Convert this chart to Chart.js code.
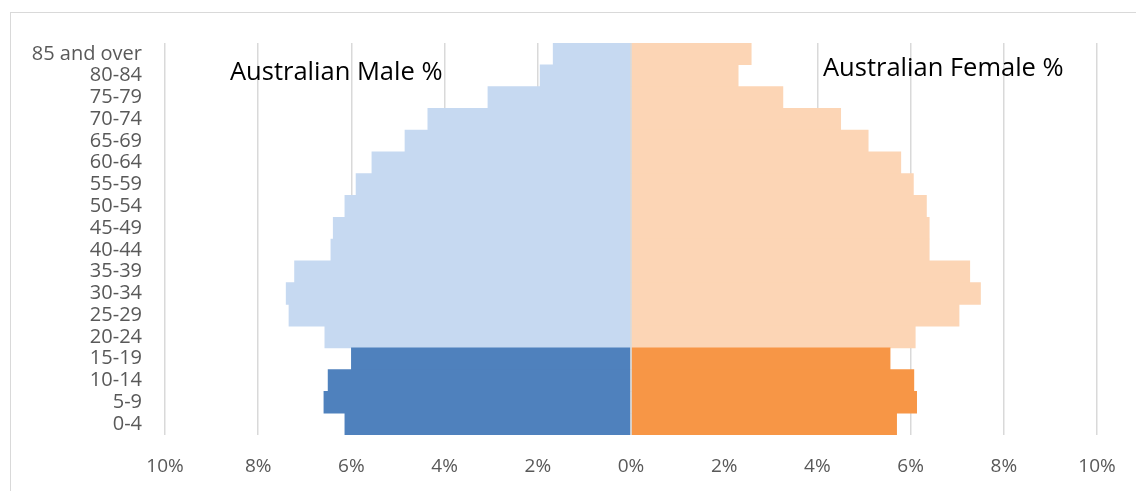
<!DOCTYPE html>
<html>
<head>
<meta charset="utf-8">
<script src="https://cdn.jsdelivr.net/npm/chart.js@4"></script>
<style>
  html, body { margin: 0; padding: 0; background: #fff; }
  #wrap { position: relative; width: 1136px; height: 491px; overflow: hidden; }
  #frame { position: absolute; left: 10px; top: 12px; width: 1140px; height: 490px; border: 1.5px solid #d9d9d9; box-sizing: border-box; }
  canvas { position: absolute; left: 0; top: 0; }
</style>
</head>
<body>
<div id="wrap">
  <div id="frame"></div>
  <canvas id="chart" width="1136" height="491"></canvas>
</div>
<script>
// age groups, top to bottom
const ageGroups = ["85 and over", "80-84", "75-79", "70-74", "65-69", "60-64", "55-59", "50-54",
  "45-49", "40-44", "35-39", "30-34", "25-29", "20-24", "15-19", "10-14", "5-9", "0-4"];

// percent of population
const malePct = [1.67, 1.95, 3.07, 4.36, 4.85, 5.56, 5.90, 6.14, 6.39, 6.44, 7.22, 7.40, 7.34, 6.57, 6.00, 6.50, 6.59, 6.14];
const femalePct = [2.58, 2.30, 3.26, 4.50, 5.09, 5.79, 6.06, 6.34, 6.40, 6.40, 7.27, 7.50, 7.04, 6.10, 5.56, 6.07, 6.13, 5.70];

// groups under 20 drawn darker
const youngGroups = ["15-19", "10-14", "5-9", "0-4"];

const xTicks = [-10, -8, -6, -4, -2, 0, 2, 4, 6, 8, 10];

const maleColors = ageGroups.map(a => youngGroups.includes(a) ? "#4f81bd" : "#c6d9f1");
const femaleColors = ageGroups.map(a => youngGroups.includes(a) ? "#f79646" : "#fcd5b5");

// labels inside the plot + the 0% line over the bars
const extras = {
  id: "extras",
  afterDatasetsDraw(chart) {
    const ctx = chart.ctx;
    const x = chart.scales.x;
    const area = chart.chartArea;
    ctx.save();
    ctx.strokeStyle = "#d9d9d9";
    ctx.lineWidth = 1.5;
    ctx.beginPath();
    ctx.moveTo(x.getPixelForValue(0), area.top);
    ctx.lineTo(x.getPixelForValue(0), area.bottom);
    ctx.stroke();
    ctx.fillStyle = "#000";
    ctx.textBaseline = "alphabetic";
    ctx.font = '25.5px "Open Sans"';
    ctx.fillText("Australian Male %", 230, 80);
    ctx.fillText("Australian Female %", 823, 76);
    ctx.restore();
  }
};

new Chart(document.getElementById("chart"), {
  type: "bar",
  data: {
    labels: ageGroups,
    datasets: [
      { label: "Male", data: malePct.map(v => -v), backgroundColor: maleColors, borderWidth: 0 },
      { label: "Female", data: femalePct, backgroundColor: femaleColors, borderWidth: 0 }
    ]
  },
  options: {
    indexAxis: "y",
    responsive: false,
    animation: false,
    barPercentage: 1,
    categoryPercentage: 1,
    layout: { padding: { left: 0, right: 39, top: 43, bottom: 0 } },
    plugins: { legend: { display: false }, tooltip: { enabled: false } },
    scales: {
      x: {
        stacked: true,
        min: -10,
        max: 10,
        afterBuildTicks(scale) { scale.ticks = xTicks.map(v => ({ value: v })); },
        afterFit(scale) { scale.height = 56; },
        grid: { color: "#d9d9d9", lineWidth: 1.5, drawTicks: false },
        border: { display: false },
        ticks: {
          padding: 20,
          color: "#595959",
          font: { family: '"Open Sans"', size: 19 },
          callback: v => Math.abs(v) + "%"
        }
      },
      y: {
        stacked: true,
        afterFit(scale) { scale.width = 165; },
        grid: { display: false, drawTicks: false },
        border: { display: false },
        ticks: {
          padding: 23,
          color: "#595959",
          autoSkip: false,
          font: { family: '"Open Sans"', size: 20 }
        }
      }
    }
  },
  plugins: [extras]
});
</script>
</body>
</html>
